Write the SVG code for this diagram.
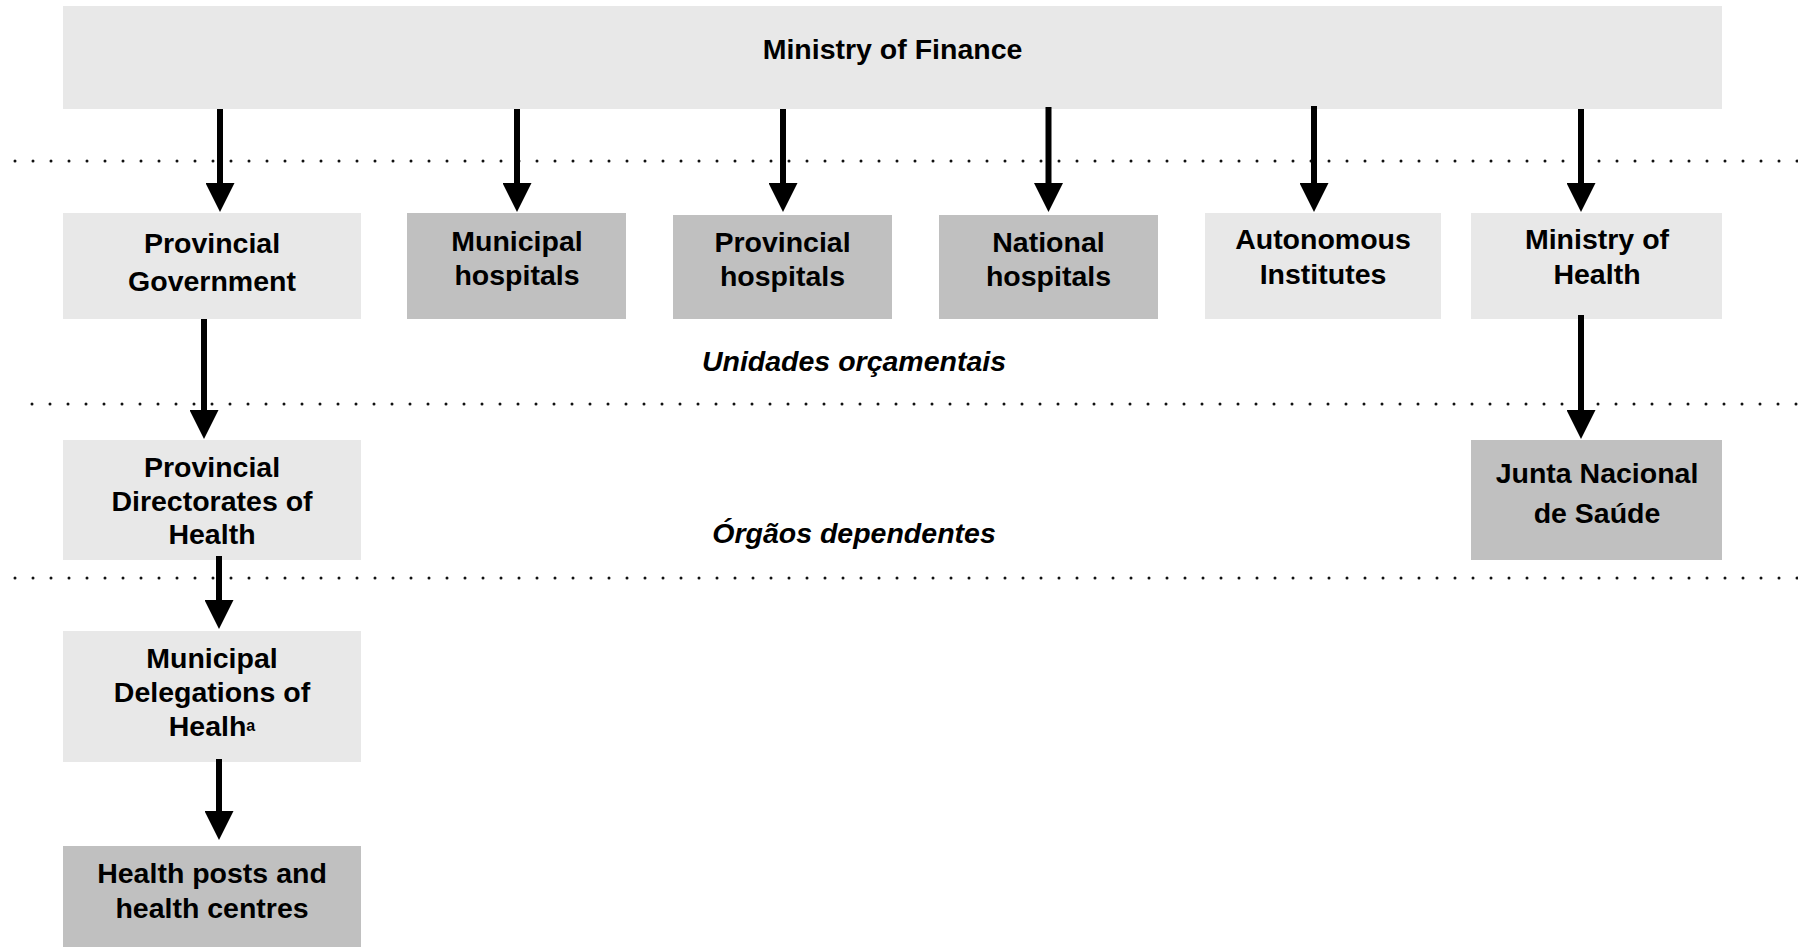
<svg xmlns="http://www.w3.org/2000/svg" width="1798" height="947" viewBox="0 0 1798 947">
  <style>
    .light { fill: #e8e8e8; }
    .dark { fill: #c0c0c0; }
    .lbl { font-family: "Liberation Sans", Arial, sans-serif; font-weight: bold; font-size: 28.5px; fill: #000; text-anchor: middle; }
    .tier { font-family: "Liberation Sans", Arial, sans-serif; font-weight: bold; font-style: italic; font-size: 28.5px; fill: #000; text-anchor: middle; }
    .sup { font-size: 16px; }
    .divider { stroke: #111; stroke-width: 3; stroke-dasharray: 0 18; stroke-linecap: round; fill: none; }
    .link { stroke: #000; stroke-width: 6; fill: none; marker-end: url(#head); }
  </style>
  <defs>
    <marker id="head" markerUnits="userSpaceOnUse" viewBox="0 0 29 29" markerWidth="29" markerHeight="29" refX="2" refY="14.5" orient="auto">
      <path d="M0,0 L29,14.5 L0,29 Z" fill="#000"/>
    </marker>
  </defs>

  <!-- tier dividers -->
  <g id="dividers">
    <line class="divider" x1="15" y1="161" x2="1798" y2="161"/>
    <line class="divider" x1="32" y1="404" x2="1798" y2="404"/>
    <line class="divider" x1="15" y1="578" x2="1798" y2="578"/>
  </g>

  <!-- tier captions -->
  <g id="tier-labels">
    <text class="tier" x="854" y="371">Unidades orçamentais</text>
    <text class="tier" x="854" y="543">Órgãos dependentes</text>
  </g>

  <g id="ministry-finance">
    <rect class="light" x="63" y="6" width="1659" height="103"/>
    <text class="lbl" x="892.5" y="59">Ministry of Finance</text>
  </g>

  <g id="provincial-government">
    <rect class="light" x="63" y="213" width="298" height="106"/>
    <text class="lbl" x="212" y="253">Provincial</text>
    <text class="lbl" x="212" y="291">Government</text>
  </g>

  <g id="municipal-hospitals">
    <rect class="dark" x="407" y="213" width="219" height="106"/>
    <text class="lbl" x="517" y="251">Municipal</text>
    <text class="lbl" x="517" y="285">hospitals</text>
  </g>

  <g id="provincial-hospitals">
    <rect class="dark" x="673" y="215" width="219" height="104"/>
    <text class="lbl" x="782.5" y="252">Provincial</text>
    <text class="lbl" x="782.5" y="286">hospitals</text>
  </g>

  <g id="national-hospitals">
    <rect class="dark" x="939" y="215" width="219" height="104"/>
    <text class="lbl" x="1048.5" y="252">National</text>
    <text class="lbl" x="1048.5" y="286">hospitals</text>
  </g>

  <g id="autonomous-institutes">
    <rect class="light" x="1205" y="213" width="236" height="106"/>
    <text class="lbl" x="1323" y="249">Autonomous</text>
    <text class="lbl" x="1323" y="284">Institutes</text>
  </g>

  <g id="ministry-health">
    <rect class="light" x="1471" y="213" width="251" height="106"/>
    <text class="lbl" x="1597" y="249">Ministry of</text>
    <text class="lbl" x="1597" y="284">Health</text>
  </g>

  <g id="provincial-directorates">
    <rect class="light" x="63" y="440" width="298" height="120"/>
    <text class="lbl" x="212" y="477">Provincial</text>
    <text class="lbl" x="212" y="511">Directorates of</text>
    <text class="lbl" x="212" y="544">Health</text>
  </g>

  <g id="junta-nacional">
    <rect class="dark" x="1471" y="440" width="251" height="120"/>
    <text class="lbl" x="1597" y="483">Junta Nacional</text>
    <text class="lbl" x="1597" y="523">de Saúde</text>
  </g>

  <g id="municipal-delegations">
    <rect class="light" x="63" y="631" width="298" height="131"/>
    <text class="lbl" x="212" y="668">Municipal</text>
    <text class="lbl" x="212" y="702">Delegations of</text>
    <text class="lbl" x="212" y="736">Healh<tspan class="sup" dy="-5">a</tspan></text>
  </g>

  <g id="health-posts">
    <rect class="dark" x="63" y="846" width="298" height="101"/>
    <text class="lbl" x="212" y="883">Health posts and</text>
    <text class="lbl" x="212" y="918">health centres</text>
  </g>

  <!-- connectors -->
  <g id="connectors">
    <line class="link" x1="220" y1="109" x2="220" y2="185"/>
    <line class="link" x1="517" y1="109" x2="517" y2="185"/>
    <line class="link" x1="783" y1="109" x2="783" y2="185"/>
    <line class="link" x1="1048.5" y1="107" x2="1048.5" y2="185"/>
    <line class="link" x1="1314" y1="106" x2="1314" y2="185"/>
    <line class="link" x1="1581" y1="109" x2="1581" y2="185"/>
    <line class="link" x1="204" y1="319" x2="204" y2="412"/>
    <line class="link" x1="1581" y1="315" x2="1581" y2="412"/>
    <line class="link" x1="219" y1="556" x2="219" y2="602"/>
    <line class="link" x1="219" y1="759" x2="219" y2="813"/>
  </g>
</svg>
